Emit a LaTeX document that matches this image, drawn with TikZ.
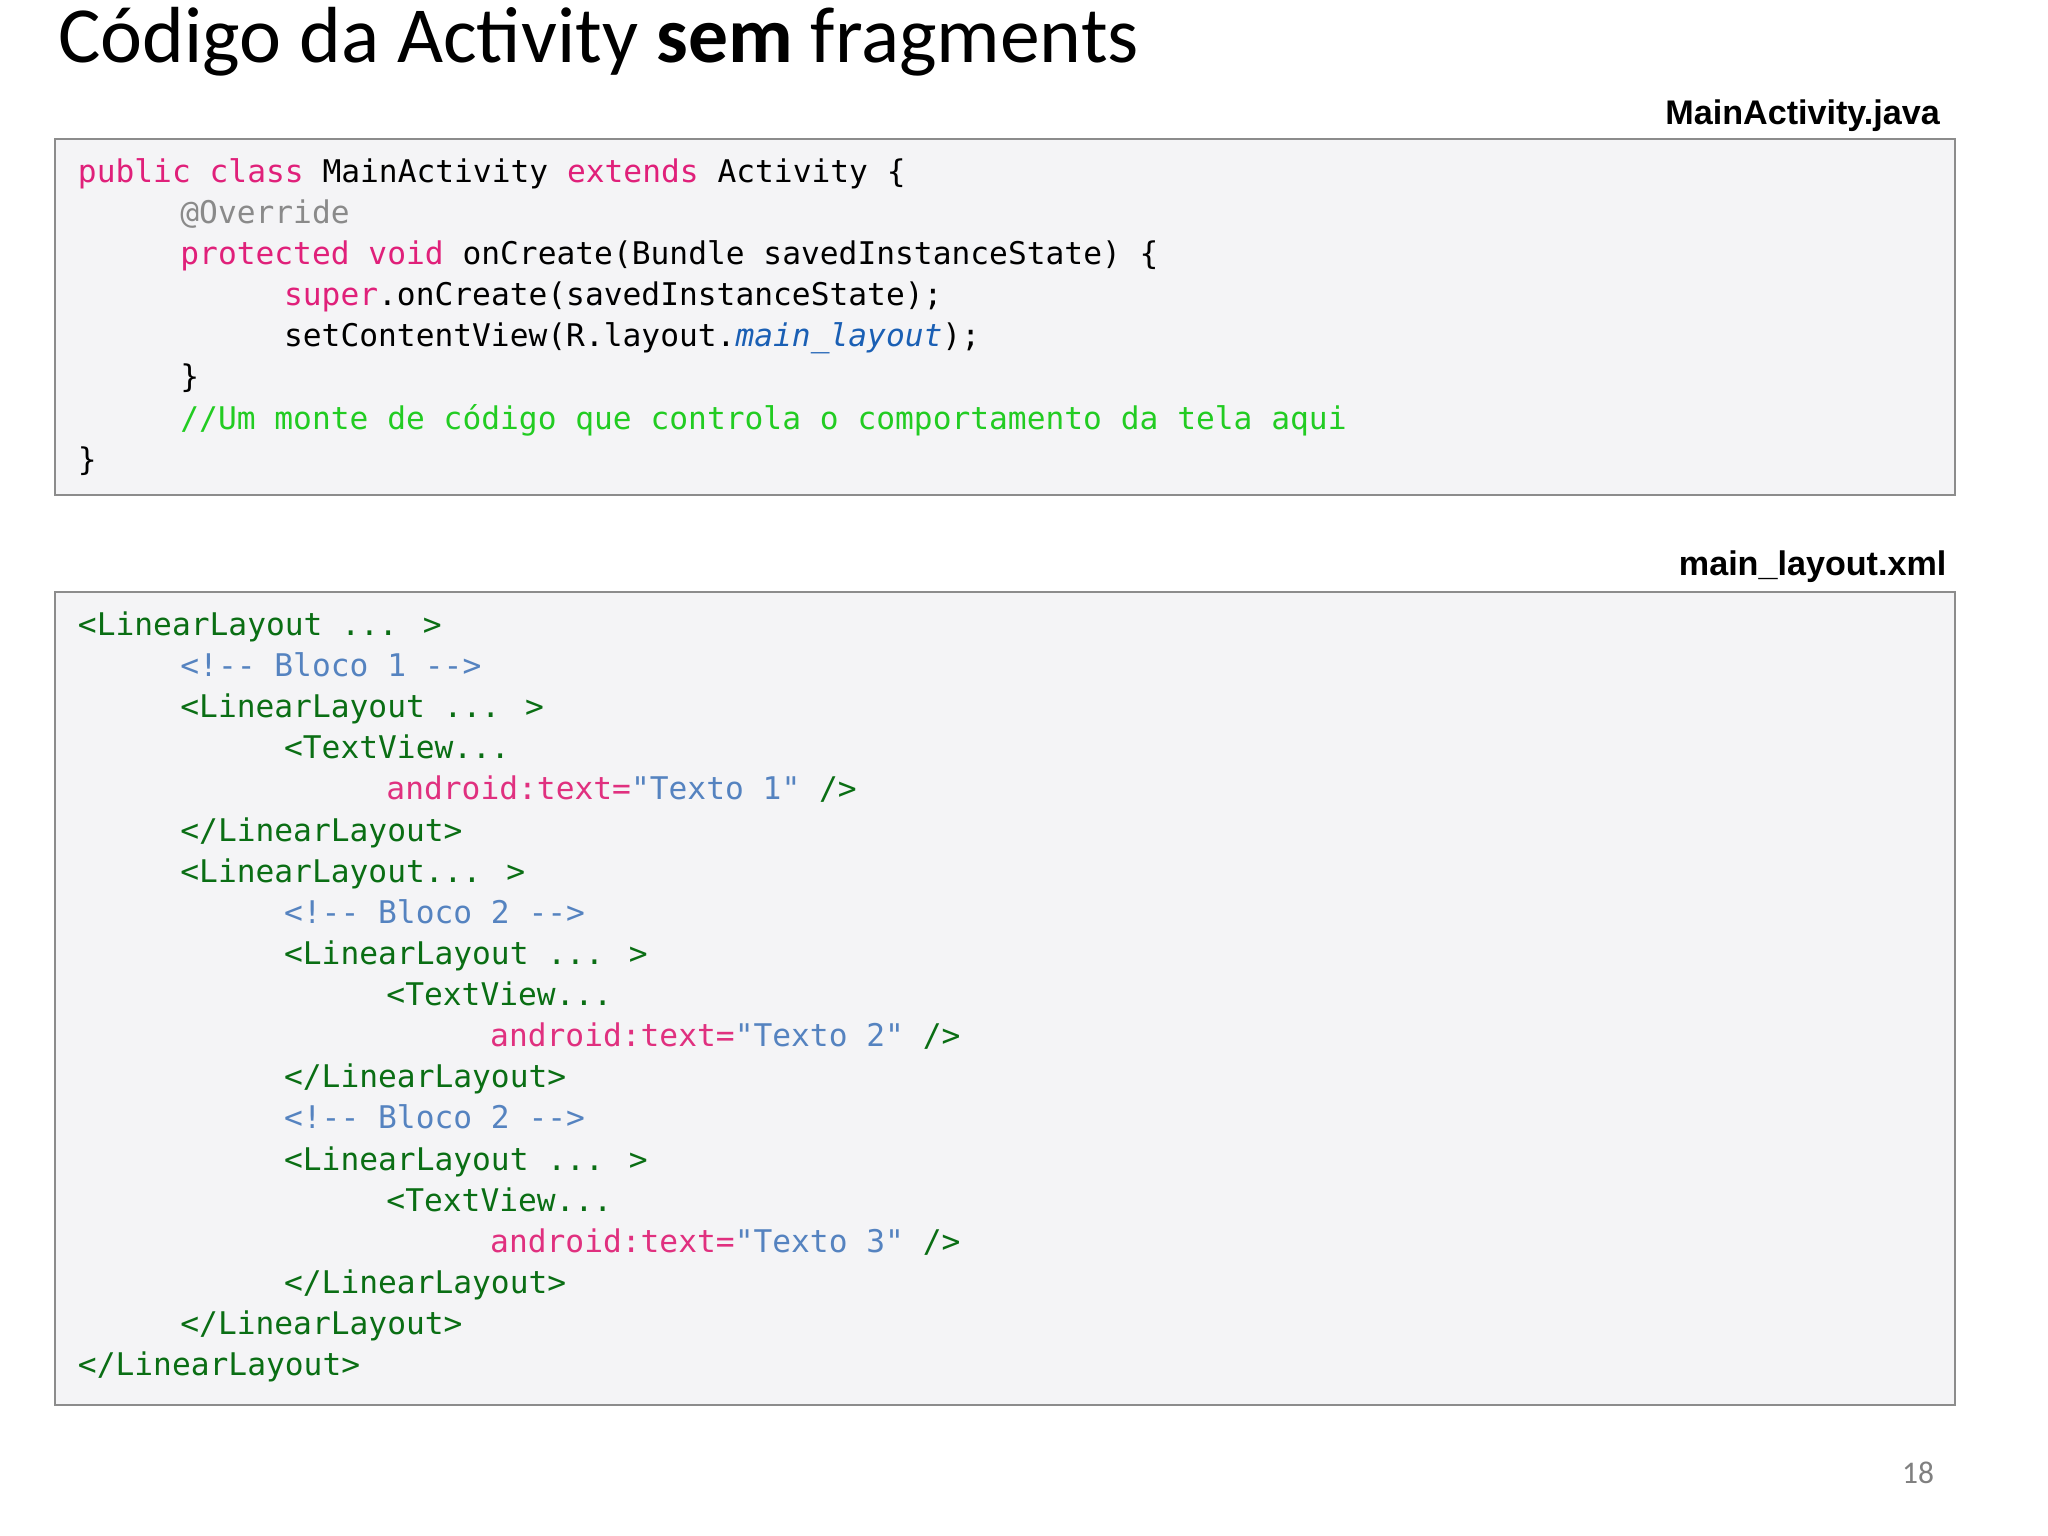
\documentclass[tikz,border=0pt]{standalone}
\usepackage{fontspec}
\setmainfont{Carlito}
\newfontfamily\codefont{DejaVu Sans Mono}
\newfontfamily\labfont{Liberation Sans}
\definecolor{kw}{HTML}{E0207A}
\definecolor{cm}{HTML}{22CC22}
\definecolor{an}{HTML}{8A8A8A}
\definecolor{bl}{HTML}{1A5FB4}
\definecolor{tg}{HTML}{0A6E14}
\definecolor{xc}{HTML}{5583C0}
\definecolor{at}{HTML}{E0307F}
\definecolor{bx}{HTML}{F4F4F6}
\begin{document}
\begin{tikzpicture}[x=0.5pt,y=-0.5pt,
  code/.style={anchor=base west,inner sep=0pt,font=\codefont\fontsize{11.9}{14}\selectfont},
  box/.style={draw=black!45,line width=0.8pt,fill=bx},
  lab/.style={anchor=east,inner sep=0pt,font=\labfont\bfseries\fontsize{13}{15}\selectfont}]
\useasboundingbox (0,0) rectangle (1560,1170);
\fill[white] (0,0) rectangle (1560,1170);
\node[anchor=west,inner sep=0pt,font=\fontsize{30.3}{34}\selectfont] (title) at (44,32) {Código da Activity \textbf{sem} fragments};
\node[lab] (jl) at (1478,88) {MainActivity.java};
\node[lab] (xl) at (1483,432) {main\_layout.xml};
\draw[box] (42,106) rectangle (1489,377);
\draw[box] (42,451) rectangle (1489,1070);
% Java
\def\jy#1{139+31.3*#1}
\node[code] (j0) at (59,{\jy0}) {\textcolor{kw}{public class} MainActivity \textcolor{kw}{extends} Activity \{};
\node[code] (j1) at (137,{\jy1}) {\textcolor{an}{@Override}};
\node[code] (j2) at (137,{\jy2}) {\textcolor{kw}{protected void} onCreate(Bundle savedInstanceState) \{};
\node[code] (j3) at (216,{\jy3}) {\textcolor{kw}{super}.onCreate(savedInstanceState);};
\node[code] (j4) at (216,{\jy4}) {setContentView(R.layout.\textcolor{bl}{\itshape main\_layout});};
\node[code] (j5) at (137,{\jy5}) {\}};
\node[code] (j6) at (137,{\jy6}) {\textcolor{cm}{//Um monte de código que controla o comportamento da tela aqui}};
\node[code] (j7) at (59,{\jy7}) {\}};
% XML
\def\xy#1{484+31.33*#1}
\node[code,tg] (x0) at (59,{\xy0}) {<LinearLayout ... >};
\node[code,xc] (x1) at (137,{\xy1}) {<!-{}- Bloco 1 -{}->};
\node[code,tg] (x2) at (137,{\xy2}) {<LinearLayout ... >};
\node[code,tg] (x3) at (216,{\xy3}) {<TextView...};
\node[code] (x4) at (294,{\xy4}) {\textcolor{at}{android:text=}\textcolor{xc}{"Texto 1"} \textcolor{tg}{/>}};
\node[code,tg] (x5) at (137,{\xy5}) {</LinearLayout>};
\node[code,tg] (x6) at (137,{\xy6}) {<LinearLayout... >};
\node[code,xc] (x7) at (216,{\xy7}) {<!-{}- Bloco 2 -{}->};
\node[code,tg] (x8) at (216,{\xy8}) {<LinearLayout ... >};
\node[code,tg] (x9) at (294,{\xy9}) {<TextView...};
\node[code] (x10) at (373,{\xy{10}}) {\textcolor{at}{android:text=}\textcolor{xc}{"Texto 2"} \textcolor{tg}{/>}};
\node[code,tg] (x11) at (216,{\xy{11}}) {</LinearLayout>};
\node[code,xc] (x12) at (216,{\xy{12}}) {<!-{}- Bloco 2 -{}->};
\node[code,tg] (x13) at (216,{\xy{13}}) {<LinearLayout ... >};
\node[code,tg] (x14) at (294,{\xy{14}}) {<TextView...};
\node[code] (x15) at (373,{\xy{15}}) {\textcolor{at}{android:text=}\textcolor{xc}{"Texto 3"} \textcolor{tg}{/>}};
\node[code,tg] (x16) at (216,{\xy{16}}) {</LinearLayout>};
\node[code,tg] (x17) at (137,{\xy{17}}) {</LinearLayout>};
\node[code,tg] (x18) at (59,{\xy{18}}) {</LinearLayout>};
\node[anchor=center,inner sep=0pt,text=black!50,font=\fontsize{12}{14}\selectfont] (pg) at (1461,1122) {18};
\end{tikzpicture}
\end{document}
